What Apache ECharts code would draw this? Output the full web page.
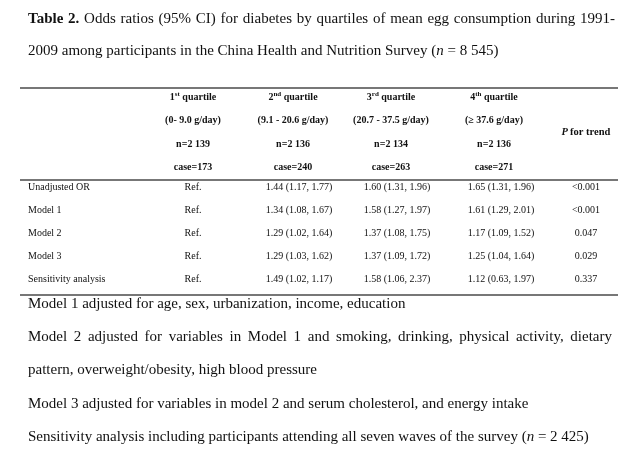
<!DOCTYPE html>
<html><head><meta charset="utf-8">
<script src="https://cdn.jsdelivr.net/npm/echarts@6/dist/echarts.min.js"></script>
<style>html,body{margin:0;padding:0;background:#fff}#c{width:640px;height:465px}</style>
</head><body><div id="c"></div>
<script>
// ---- data ----
var titleLines = [
  [{t:'Table 2.',s:'b'},{t:' Odds ratios (95% CI) for diabetes by quartiles of mean egg consumption during 1991-'}],
  [{t:'2009 among participants in the China Health and Nutrition Survey ('},{t:'n',s:'i'},{t:' = 8 545)'}]
];
var quartileOrd = ['1', '2', '3', '4'];
var quartileSup = ['st', 'nd', 'rd', 'th'];
var quartileRange = ['(0- 9.0 g/day)', '(9.1 - 20.6 g/day)', '(20.7 - 37.5 g/day)', '(\u2265 37.6 g/day)'];
var quartileN = ['n=2 139', 'n=2 136', 'n=2 134', 'n=2 136'];
var quartileCase = ['case=173', 'case=240', 'case=263', 'case=271'];
var rowLabels = ['Unadjusted OR', 'Model 1', 'Model 2', 'Model 3', 'Sensitivity analysis'];
var q1Values = ['Ref.', 'Ref.', 'Ref.', 'Ref.', 'Ref.'];
var q2Values = ['1.44 (1.17, 1.77)', '1.34 (1.08, 1.67)', '1.29 (1.02, 1.64)', '1.29 (1.03, 1.62)', '1.49 (1.02, 1.17)'];
var q3Values = ['1.60 (1.31, 1.96)', '1.58 (1.27, 1.97)', '1.37 (1.08, 1.75)', '1.37 (1.09, 1.72)', '1.58 (1.06, 2.37)'];
var q4Values = ['1.65 (1.31, 1.96)', '1.61 (1.29, 2.01)', '1.17 (1.09, 1.52)', '1.25 (1.04, 1.64)', '1.12 (0.63, 1.97)'];
var pTrend = ['<0.001', '<0.001', '0.047', '0.029', '0.337'];
var footnotes = [
  [{t:'Model 1 adjusted for age, sex, urbanization, income, education'}],
  [{t:'Model 2 adjusted for variables in Model 1 and smoking, drinking, physical activity, dietary'}],
  [{t:'pattern, overweight/obesity, high blood pressure'}],
  [{t:'Model 3 adjusted for variables in model 2 and serum cholesterol, and energy intake'}],
  [{t:'Sensitivity analysis including participants attending all seven waves of the survey ('},{t:'n',s:'i'},{t:' = 2 425)'}]
];

// ---- layout ----
var FONT = '"Liberation Serif","Times New Roman",serif';
var chart = echarts.init(document.getElementById('c'), null, {renderer:'canvas'});
var els = [];
var cvs = document.createElement('canvas').getContext('2d');
function fontStr(size, s){ return (s==='i'?'italic ':'') + (s==='b'?'bold ':'') + size + 'px ' + FONT; }
function measure(t, size, s){ cvs.font = fontStr(size, s); return cvs.measureText(t).width; }
var textColor = '#111';

function drawRuns(runs, x, y, size, justifyTo){
  if (justifyTo){
    var words = [];
    runs.forEach(function(r){ r.t.split(' ').forEach(function(w){ if(w.length) words.push({t:w,s:r.s}); }); });
    var total = 0; words.forEach(function(w){ w.w = measure(w.t,size,w.s); total += w.w; });
    var gap = (justifyTo - x - total) / (words.length - 1);
    var cx = x;
    words.forEach(function(w){
      els.push({type:'text', x:cx, y:y, style:{text:w.t, font:fontStr(size,w.s), fill:textColor, verticalAlign:'middle', align:'left'}});
      cx += w.w + gap;
    });
    return;
  }
  var cx = x;
  runs.forEach(function(r){
    els.push({type:'text', x:cx, y:y, style:{text:r.t, font:fontStr(size,r.s), fill:textColor, verticalAlign:'middle', align:'left'}});
    cx += measure(r.t, size, r.s);
  });
}

// title
drawRuns(titleLines[0], 28, 19, 15, 615);
drawRuns(titleLines[1], 28, 51, 15);

// rules
[88, 180, 295].forEach(function(y){
  els.push({type:'line', shape:{x1:20, y1:y, x2:618, y2:y}, style:{stroke:'#4a4a4a', lineWidth:1.5}});
});

var headX = [193, 293, 391, 494, 586];
var colX = [193, 299, 397, 501, 586];
var headY = [97, 120, 144, 167];
var hSize = 10;
for (var i = 0; i < 4; i++){
  var w1 = measure(quartileOrd[i], hSize, 'b'), w2 = measure(quartileSup[i], 7, 'b'), w3 = measure(' quartile', hSize, 'b');
  var sx = headX[i] - (w1+w2+w3)/2;
  els.push({type:'text', x:sx, y:headY[0], style:{text:quartileOrd[i], font:fontStr(hSize,'b'), fill:textColor, verticalAlign:'middle'}});
  els.push({type:'text', x:sx+w1, y:headY[0]-3, style:{text:quartileSup[i], font:fontStr(7,'b'), fill:textColor, verticalAlign:'middle'}});
  els.push({type:'text', x:sx+w1+w2, y:headY[0], style:{text:' quartile', font:fontStr(hSize,'b'), fill:textColor, verticalAlign:'middle'}});
  [quartileRange, quartileN, quartileCase].forEach(function(arr, k){
    els.push({type:'text', x:headX[i], y:headY[k+1], style:{text:arr[i], font:fontStr(hSize,'b'), fill:textColor, align:'center', verticalAlign:'middle'}});
  });
}
(function(){
  var wp = measure('P', 10.5, 'bi'), wr = measure(' for trend', 10.5, 'b');
  var sx = headX[4] - (wp+wr)/2;
  els.push({type:'text', x:sx, y:132, style:{text:'P', font:'italic bold 10.5px '+FONT, fill:textColor, verticalAlign:'middle'}});
  els.push({type:'text', x:sx+wp, y:132, style:{text:' for trend', font:fontStr(10.5,'b'), fill:textColor, verticalAlign:'middle'}});
})();

var rowY = [187, 210, 233, 256, 279];
var dSize = 10;
var cols = [q1Values, q2Values, q3Values, q4Values, pTrend];
rowLabels.forEach(function(lab, r){
  els.push({type:'text', x:28, y:rowY[r], style:{text:lab, font:fontStr(dSize), fill:textColor, verticalAlign:'middle'}});
  cols.forEach(function(arr, c){
    els.push({type:'text', x:colX[c], y:rowY[r], style:{text:arr[r], font:fontStr(dSize), fill:textColor, align:'center', verticalAlign:'middle'}});
  });
});

// footnotes
var footY = [304, 337, 370, 404, 437];
footnotes.forEach(function(runs, i){
  drawRuns(runs, 28, footY[i], 15, i === 1 ? 612 : null);
});

chart.setOption({ animation:false, backgroundColor:'#fff', graphic:{ elements: els } });
</script></body></html>
